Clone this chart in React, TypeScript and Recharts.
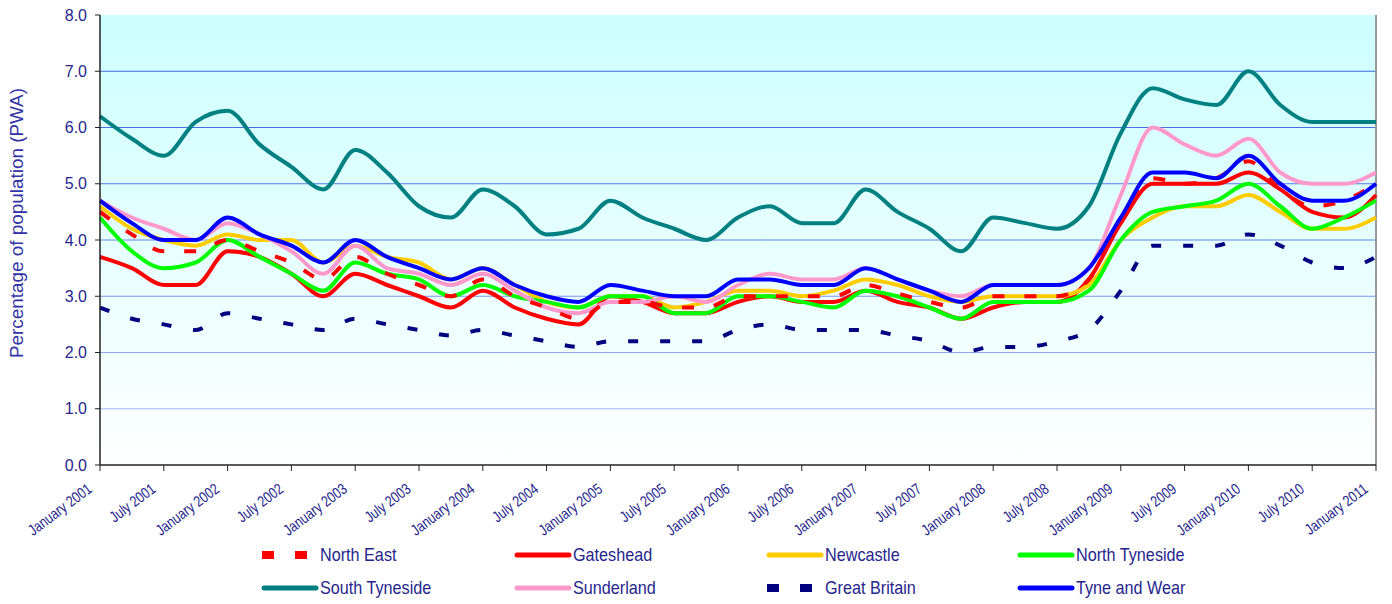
import { LineChart, Line, XAxis, YAxis, CartesianGrid, ReferenceLine, Legend } from 'recharts';

// quarterly periods, Jan 2001 .. Jan 2011
const years = [2001, 2002, 2003, 2004, 2005, 2006, 2007, 2008, 2009, 2010, 2011];
const months = ['January', 'April', 'July', 'October'];
const periods: string[] = [];
years.forEach(y => months.forEach(m => {
  if (y < 2011 || m === 'January') periods.push(`${m} ${y}`);
}));

const northEast = [4.5, 4.1, 3.8, 3.8, 4.0, 3.8, 3.6, 3.3, 3.7, 3.4, 3.2, 3.0, 3.3, 3.0, 2.8, 2.6, 2.9, 2.9, 2.8, 2.8, 3.0, 3.0, 3.0, 3.0, 3.2, 3.05, 2.9, 2.8, 3.0, 3.0, 3.0, 3.3, 4.4, 5.1, 5.0, 5.1, 5.4, 4.9, 4.6, 4.7, 5.0];
const gateshead = [3.7, 3.5, 3.2, 3.2, 3.8, 3.7, 3.4, 3.0, 3.4, 3.2, 3.0, 2.8, 3.1, 2.8, 2.6, 2.5, 3.0, 2.9, 2.7, 2.7, 2.9, 3.0, 2.9, 2.9, 3.1, 2.9, 2.8, 2.6, 2.8, 2.9, 2.9, 3.3, 4.3, 5.0, 5.0, 5.0, 5.2, 4.9, 4.5, 4.4, 4.8];
const newcastle = [4.6, 4.2, 4.0, 3.9, 4.1, 4.0, 4.0, 3.6, 3.9, 3.7, 3.6, 3.3, 3.5, 3.2, 2.9, 2.8, 3.0, 3.0, 2.8, 2.9, 3.1, 3.1, 3.0, 3.1, 3.3, 3.2, 3.0, 2.9, 3.0, 3.0, 3.0, 3.2, 4.0, 4.4, 4.6, 4.6, 4.8, 4.5, 4.2, 4.2, 4.4];
const northTyneside = [4.4, 3.8, 3.5, 3.6, 4.0, 3.7, 3.4, 3.1, 3.6, 3.4, 3.3, 3.0, 3.2, 3.0, 2.9, 2.8, 3.0, 3.0, 2.7, 2.7, 3.0, 3.0, 2.9, 2.8, 3.1, 3.0, 2.8, 2.6, 2.9, 2.9, 2.9, 3.1, 4.0, 4.5, 4.6, 4.7, 5.0, 4.6, 4.2, 4.4, 4.7];
const southTyneside = [6.2, 5.8, 5.5, 6.1, 6.3, 5.7, 5.3, 4.9, 5.6, 5.2, 4.6, 4.4, 4.9, 4.6, 4.1, 4.2, 4.7, 4.4, 4.2, 4.0, 4.4, 4.6, 4.3, 4.3, 4.9, 4.5, 4.2, 3.8, 4.4, 4.3, 4.2, 4.6, 5.9, 6.7, 6.5, 6.4, 7.0, 6.4, 6.1, 6.1, 6.1];
const sunderland = [4.7, 4.4, 4.2, 4.0, 4.3, 4.1, 3.8, 3.4, 3.9, 3.5, 3.4, 3.2, 3.4, 3.1, 2.8, 2.7, 2.9, 2.9, 3.0, 2.9, 3.2, 3.4, 3.3, 3.3, 3.5, 3.3, 3.1, 3.0, 3.2, 3.2, 3.2, 3.5, 4.8, 6.0, 5.7, 5.5, 5.8, 5.2, 5.0, 5.0, 5.2];
const greatBritain = [2.8, 2.6, 2.5, 2.4, 2.7, 2.6, 2.5, 2.4, 2.6, 2.5, 2.4, 2.3, 2.4, 2.3, 2.2, 2.1, 2.2, 2.2, 2.2, 2.2, 2.4, 2.5, 2.4, 2.4, 2.4, 2.3, 2.2, 2.0, 2.1, 2.1, 2.2, 2.4, 3.1, 3.9, 3.9, 3.9, 4.1, 3.9, 3.6, 3.5, 3.7];
const tyneAndWear = [4.7, 4.3, 4.0, 4.0, 4.4, 4.1, 3.9, 3.6, 4.0, 3.7, 3.5, 3.3, 3.5, 3.2, 3.0, 2.9, 3.2, 3.1, 3.0, 3.0, 3.3, 3.3, 3.2, 3.2, 3.5, 3.3, 3.1, 2.9, 3.2, 3.2, 3.2, 3.5, 4.4, 5.2, 5.2, 5.1, 5.5, 5.0, 4.7, 4.7, 5.0];

const yTicks = [0, 1, 2, 3, 4, 5, 6, 7, 8];

const series = [
  { key: 'ne', name: 'North East', data: northEast, color: '#ff0000', dash: '12 20' },
  { key: 'gh', name: 'Gateshead', data: gateshead, color: '#ff0000' },
  { key: 'nc', name: 'Newcastle', data: newcastle, color: '#ffcc00' },
  { key: 'nt', name: 'North Tyneside', data: northTyneside, color: '#00ff00' },
  { key: 'st', name: 'South Tyneside', data: southTyneside, color: '#008080' },
  { key: 'su', name: 'Sunderland', data: sunderland, color: '#ff99cc' },
  { key: 'gb', name: 'Great Britain', data: greatBritain, color: '#000080', dash: '10 22' },
  { key: 'tw', name: 'Tyne and Wear', data: tyneAndWear, color: '#0000ff' },
];

// drawing order (last on top)
const drawOrder = ['gh', 'nc', 'nt', 'st', 'su', 'gb', 'ne', 'tw'];

const chartData = periods.map((label, i) => {
  const row: Record<string, string | number> = { label };
  series.forEach(s => { row[s.key] = s.data[i]; });
  return row;
});

const FONT = "'Liberation Sans', Arial, sans-serif";
const TEXT = '#26268c';

const gridColors: Record<number, string> = {
  1: '#a3b6f5', 2: '#90a6f2', 3: '#7d96ee', 4: '#6684e9', 5: '#5577e6', 6: '#4a6fe3', 7: '#4169e1',
};

// eslint-disable-next-line @typescript-eslint/no-explicit-any
function XTick({ x, y, payload }: any) {
  return (
    <g transform={`translate(${x - 7},${y + 18}) rotate(-37) scale(0.8,1)`}>
      <text textAnchor="end" fill={TEXT} fontSize={15.5} fontFamily={FONT}>
        {payload.value}
      </text>
    </g>
  );
}

function YLabel() {
  return (
    <text
      x={0}
      y={0}
      transform="translate(23,223) rotate(-90)"
      textAnchor="middle"
      fill="#3333a6"
      fontSize={19}
      fontFamily={FONT}
      textLength={270}
      lengthAdjust="spacingAndGlyphs"
    >
      Percentage of population (PWA)
    </text>
  );
}

function LegendBox() {
  const cols = [262, 515, 767, 1018];
  const rows = [15, 48];
  return (
    <svg width={1392} height={64} style={{ position: 'absolute', left: 0, top: 0 }}>
      {series.map((s, i) => {
        const cx = cols[i % 4];
        const cy = rows[Math.floor(i / 4)];
        return (
          <g key={s.key}>
            {s.dash ? (
              <line x1={cx} x2={cx + 46} y1={cy} y2={cy} stroke={s.color} strokeWidth={8} strokeDasharray="12 21" />
            ) : (
              <line x1={cx + 2} x2={cx + 54} y1={cy} y2={cy} stroke={s.color} strokeWidth={5} strokeLinecap="round" />
            )}
            <g transform={`translate(${cx + 58},${cy + 6}) scale(0.9,1)`}>
              <text fontSize={18} fill={TEXT} fontFamily={FONT}>{s.name}</text>
            </g>
          </g>
        );
      })}
    </svg>
  );
}

export default function App() {
  return (
    <div style={{ position: 'absolute', left: 0, top: 0, width: 1392, height: 604, background: '#fff', fontFamily: FONT }}>
      <LineChart width={1392} height={604} data={chartData} margin={{ top: 15, right: 16, left: 0, bottom: 0 }}>
        <defs>
          <linearGradient id="plotBg" x1="0" y1="0" x2="0" y2="1">
            <stop offset="0%" stopColor="#ccffff" />
            <stop offset="100%" stopColor="#ffffff" />
          </linearGradient>
        </defs>
        <CartesianGrid fill="url(#plotBg)" horizontal={false} vertical={false} />
        {[1, 2, 3, 4, 5, 6, 7].map(v => (
          <ReferenceLine key={v} y={v} stroke={gridColors[v]} strokeWidth={1.2} />
        ))}
        <XAxis
          dataKey="label"
          interval={1}
          height={75}
          tickSize={6}
          tick={<XTick />}
          axisLine={{ stroke: '#222', strokeWidth: 1.5 }}
          tickLine={{ stroke: '#222' }}
        />
        <YAxis
          domain={[0, 8]}
          ticks={yTicks}
          width={100}
          tickSize={5}
          tickMargin={8}
          tickFormatter={(v: number) => v.toFixed(1)}
          tick={{ fill: TEXT, fontSize: 16, fontFamily: FONT }}
          axisLine={{ stroke: '#222', strokeWidth: 1.5 }}
          tickLine={{ stroke: '#222' }}
          label={<YLabel />}
        />
        <ReferenceLine x={periods[periods.length - 1]} stroke="#999" strokeWidth={2} />
        {drawOrder.map(k => {
          const s = series.find(d => d.key === k)!;
          return (
            <Line
              key={s.key}
              dataKey={s.key}
              name={s.name}
              type="monotone"
              stroke={s.color}
              strokeWidth={4}
              strokeDasharray={s.dash}
              dot={false}
              activeDot={false}
              isAnimationActive={false}
            />
          );
        })}
        <Legend
          verticalAlign="bottom"
          height={64}
          content={<LegendBox />}
          wrapperStyle={{ left: 0, top: 540, width: 1392, height: 64 }}
        />
      </LineChart>
    </div>
  );
}
